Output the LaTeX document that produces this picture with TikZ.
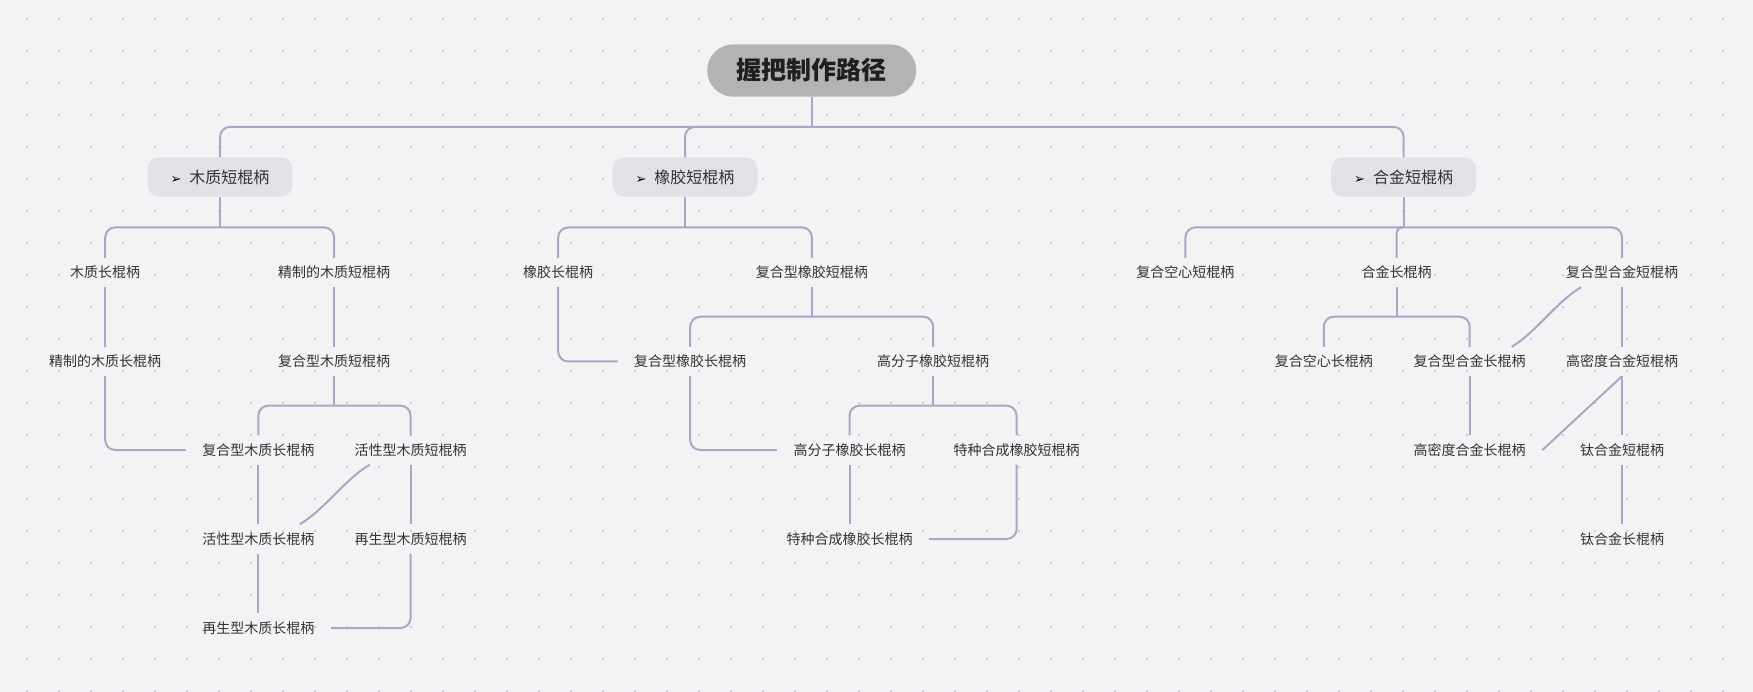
\documentclass[tikz,border=0pt]{standalone}
\usepackage{xcolor}
\usepackage{tikz}
\usepackage{fontspec}
\setmainfont{Noto Sans CJK SC}
\newfontfamily\arrowfont{DejaVu Sans}

\definecolor{bgc}{HTML}{F3F3F6}
\definecolor{dotc}{HTML}{CDCDD4}
\definecolor{linec}{HTML}{A8A8C6}
\definecolor{boxc}{HTML}{E1E1E8}
\definecolor{rootc}{HTML}{B3B3B3}
\definecolor{txtc}{HTML}{333333}

\newcommand{\headtxt}[1]{{\arrowfont\fontsize{13pt}{13pt}\selectfont\color{black}➢}\hspace{8pt}#1}

\begin{document}
\begin{tikzpicture}[x=1pt, y=-1pt,
    link/.style={draw=linec, line width=2pt, rounded corners=10pt},
    rootbox/.style={fill=rootc, rounded corners=26pt, minimum width=209pt, minimum height=52.3pt, text=black!88, font=\fontsize{25pt}{28pt}\selectfont\bfseries},
    topic/.style={fill=boxc, rounded corners=12pt, minimum width=145pt, minimum height=39.4pt, text=txtc, font=\fontsize{16pt}{18pt}\selectfont},
    leaf/.style={inner xsep=16.5pt, inner ysep=0pt, minimum height=29pt, text=txtc, font=\fontsize{14pt}{16pt}\selectfont}]
                                \useasboundingbox (0, 0) rectangle (1753, 692);
                                \fill[bgc] (0, 0) rectangle (1753, 692);
                                \foreach \i in {0,...,53}
                                    \foreach \j in {0,...,21}
                                        \fill[dotc] ({25.7+32*\i}, {17.7+32*\j}) rectangle ++(2, 2);

                                % root and branches
                                \node (root) at (811.7, 70.5) [rootbox] {握把制作路径};
                                \node (wood) at (220, 177) [topic] {\headtxt{木质短棍柄}};
                                \node (rub) at (685, 177) [topic] {\headtxt{橡胶短棍柄}};
                                \node (alloy) at (1403.6, 177) [topic] {\headtxt{合金短棍柄}};

                                % wood
                                \node (mzc) at (105.2, 272.5) [leaf] {木质长棍柄};
                                \node (jzd) at (334.1, 272.5) [leaf] {精制的木质短棍柄};
                                \node (jzc) at (105.2, 361.5) [leaf] {精制的木质长棍柄};
                                \node (fhd) at (334.1, 361.5) [leaf] {复合型木质短棍柄};
                                \node (fhc) at (258.3, 450) [leaf] {复合型木质长棍柄};
                                \node (hxd) at (410.6, 450) [leaf] {活性型木质短棍柄};
                                \node (hxc) at (258.3, 539) [leaf] {活性型木质长棍柄};
                                \node (zsd) at (410.6, 539) [leaf] {再生型木质短棍柄};
                                \node (zsc) at (258.3, 628) [leaf] {再生型木质长棍柄};

                                % rubber
                                \node (xjc) at (558.2, 272.5) [leaf] {橡胶长棍柄};
                                \node (xfd) at (811.9, 272.5) [leaf] {复合型橡胶短棍柄};
                                \node (xfc) at (690.2, 361.5) [leaf] {复合型橡胶长棍柄};
                                \node (gfd) at (933.2, 361.5) [leaf] {高分子橡胶短棍柄};
                                \node (gfc) at (849.5, 450) [leaf] {高分子橡胶长棍柄};
                                \node (tzd) at (1016.6, 450) [leaf] {特种合成橡胶短棍柄};
                                \node (tzc) at (849.5, 539) [leaf] {特种合成橡胶长棍柄};

                                % alloy
                                \node (kxd) at (1185.4, 272.5) [leaf] {复合空心短棍柄};
                                \node (hjc) at (1396.6, 272.5) [leaf] {合金长棍柄};
                                \node (hfd) at (1622, 272.5) [leaf] {复合型合金短棍柄};
                                \node (kxc) at (1323.8, 361.5) [leaf] {复合空心长棍柄};
                                \node (hfc) at (1469.7, 361.5) [leaf] {复合型合金长棍柄};
                                \node (gmd) at (1622, 361.5) [leaf] {高密度合金短棍柄};
                                \node (gmc) at (1469.7, 450) [leaf] {高密度合金长棍柄};
                                \node (tjd) at (1622, 450) [leaf] {钛合金短棍柄};
                                \node (tjc) at (1622, 539) [leaf] {钛合金长棍柄};

                                \draw[link] (root.south) -- ++(0, 30) coordinate (rb);
                                \draw[link] (rb) -| (wood.north);
                                \draw[link] (rb) -| (rub.north);
                                \draw[link] (rb) -| (alloy.north);

                                \draw[link] (wood.south) -- ++(0, 30.5) coordinate (wb);
                                \draw[link] (wb) -| (mzc.north);
                                \draw[link] (wb) -| (jzd.north);
                                \draw[link] (mzc) -- (jzc);
                                \draw[link] (jzc.south) |- (fhc.west);
                                \draw[link] (jzd) -- (fhd);
                                \draw[link] (fhd.south) -- ++(0, 29.5) coordinate (fb);
                                \draw[link] (fb) -| (fhc.north);
                                \draw[link] (fb) -| (hxd.north);
                                \draw[link] (fhc) -- (hxc) -- (zsc);
                                \draw[link] (hxd) -- (zsd);
                                \draw[link] ([xshift=41.5pt]hxc.north) .. controls +(25, -15) and +(-25, 15) .. ([xshift=-41pt]hxd.south);
                                \draw[link] (zsd.south) |- (zsc.east);

                                \draw[link] (rub.south) -- ++(0, 30.5) coordinate (xb);
                                \draw[link] (xb) -| (xjc.north);
                                \draw[link] (xb) -| (xfd.north);
                                \draw[link] (xjc.south) |- (xfc.west);
                                \draw[link] (xfd.south) -- ++(0, 29.5) coordinate (xfb);
                                \draw[link] (xfb) -| (xfc.north);
                                \draw[link] (xfb) -| (gfd.north);
                                \draw[link] (xfc.south) |- (gfc.west);
                                \draw[link] (gfd.south) -- ++(0, 29.5) coordinate (gb);
                                \draw[link] (gb) -| (gfc.north);
                                \draw[link] (gb) -| (tzd.north);
                                \draw[link] (gfc) -- (tzc);
                                \draw[link] (tzd.south) |- (tzc.east);

                                \draw[link] (alloy.south) -- ++(0, 30.5) coordinate (ab);
                                \draw[link] (ab) -| (kxd.north);
                                \draw[link, rounded corners=6pt] (ab) -| (hjc.north);
                                \draw[link] (ab) -| (hfd.north);
                                \draw[link] (hjc.south) -- ++(0, 29.5) coordinate (hb);
                                \draw[link] (hb) -| (kxc.north);
                                \draw[link] (hb) -| (hfc.north);
                                \draw[link] (hfc) -- (gmc);
                                \draw[link] ([xshift=42pt]hfc.north) .. controls +(25, -15) and +(-25, 15) .. ([xshift=-41pt]hfd.south);
                                \draw[link] (hfd) -- (gmd) -- (tjd) -- (tjc);
                                \draw[link] (gmd.south) -- (gmc.east);
                            \end{tikzpicture}
\end{document}
